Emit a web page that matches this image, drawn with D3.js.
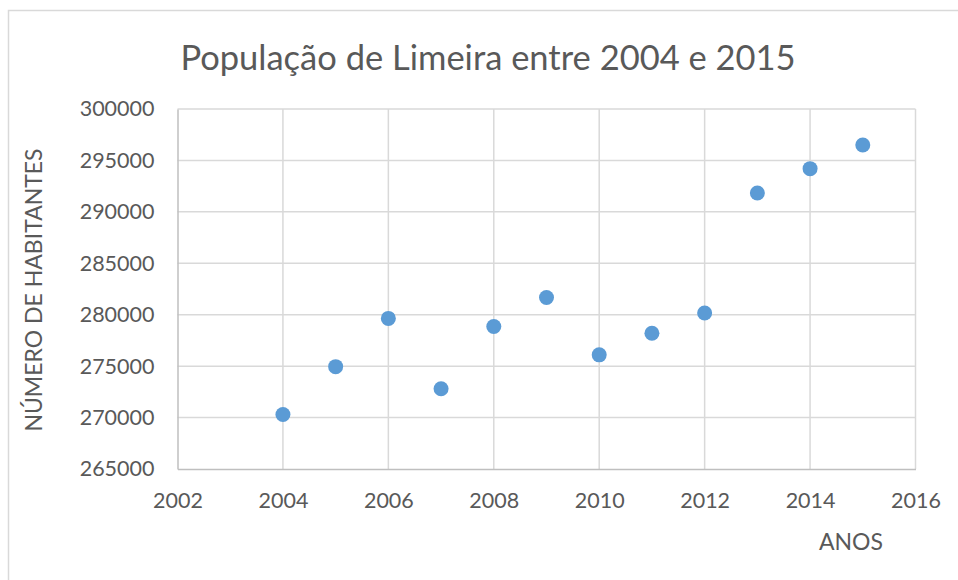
<!DOCTYPE html>
<html lang="pt">
<head>
<meta charset="UTF-8">
<title>População de Limeira</title>
<script src="https://d3js.org/d3.v7.min.js"></script>
<style>
    body { margin: 0; background: #fff; }
    svg text { font-family: Lato, "Open Sans", sans-serif; fill: #595959; }
</style>
</head>
<body>
<svg id="chart"></svg>
<script>
    // data
    const anos = [2004, 2005, 2006, 2007, 2008, 2009, 2010, 2011, 2012, 2013, 2014, 2015];
    const habitantes = [270300, 274950, 279640, 272800, 278850, 281680, 276100, 278200, 280170, 291830, 294200, 296500];
    const xTicks = [2002, 2004, 2006, 2008, 2010, 2012, 2014, 2016];
    const yTicks = [265000, 270000, 275000, 280000, 285000, 290000, 295000, 300000];

    const width = 958, height = 580;
    const margin = {left: 177.5, right: 42.5, top: 109, bottom: 111};

    const svg = d3.select("#chart").attr("width", width).attr("height", height);

    // outer chart border
    svg.append("rect")
        .attr("x", 8.5).attr("y", 10.5)
        .attr("width", width + 10).attr("height", height + 10)
        .attr("fill", "none").attr("stroke", "#d9d9d9").attr("stroke-width", 1.5);

    const x = d3.scaleLinear().domain([2002, 2016]).range([margin.left, width - margin.right]);
    const y = d3.scaleLinear().domain([265000, 300000]).range([height - margin.bottom, margin.top]);

    // gridlines
    svg.append("g").selectAll("line").data(xTicks.slice(1)).enter().append("line")
        .attr("x1", d => x(d)).attr("x2", d => x(d))
        .attr("y1", y(300000)).attr("y2", y(265000))
        .attr("stroke", "#d9d9d9").attr("stroke-width", 1.5);
    svg.append("g").selectAll("line").data(yTicks.slice(1)).enter().append("line")
        .attr("x1", x(2002)).attr("x2", x(2016))
        .attr("y1", d => y(d)).attr("y2", d => y(d))
        .attr("stroke", "#d9d9d9").attr("stroke-width", 1.5);

    // axes
    const xAxis = svg.append("g")
        .attr("transform", `translate(0,${y(265000)})`)
        .call(d3.axisBottom(x).tickValues(xTicks).tickFormat(d3.format("d")).tickSize(0).tickPadding(24));
    xAxis.select(".domain").attr("stroke", "#bfbfbf").attr("stroke-width", 1.5);
    xAxis.selectAll("text").style("font-size", "21.5px");

    const yAxis = svg.append("g")
        .attr("transform", `translate(${x(2002)},0)`)
        .call(d3.axisLeft(y).tickValues(yTicks).tickFormat(d3.format("d")).tickSize(0).tickPadding(23));
    yAxis.select(".domain").attr("stroke", "#bfbfbf").attr("stroke-width", 1.5);
    yAxis.selectAll("text").style("font-size", "21.5px");

    // points
    svg.append("g").selectAll("circle").data(anos).enter().append("circle")
        .attr("cx", d => x(d))
        .attr("cy", (d, i) => y(habitantes[i]))
        .attr("r", 7.5)
        .attr("fill", "#5b9bd5");

    // titles
    svg.append("text")
        .attr("x", 488).attr("y", 70)
        .attr("text-anchor", "middle")
        .style("font-size", "34.5px")
        .text("População de Limeira entre 2004 e 2015");

    svg.append("text")
        .attr("transform", "translate(42,290) rotate(-90)")
        .attr("text-anchor", "middle")
        .style("font-size", "23px")
        .text("NÚMERO DE HABITANTES");

    svg.append("text")
        .attr("x", 851).attr("y", 550)
        .attr("text-anchor", "middle")
        .style("font-size", "23px")
        .text("ANOS");
</script>
</body>
</html>
